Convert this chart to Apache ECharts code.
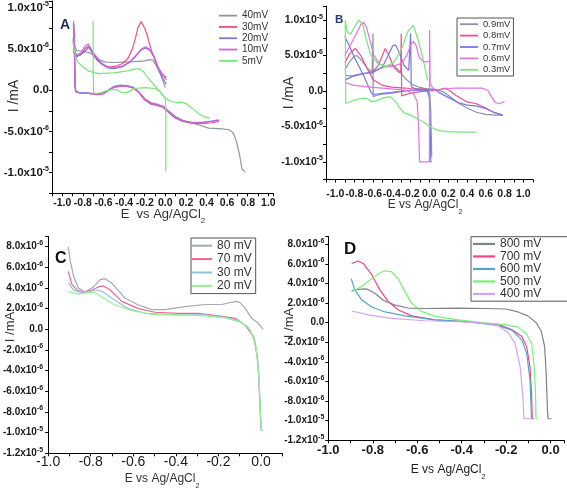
<!DOCTYPE html>
<html><head><meta charset="utf-8">
<script src="https://cdn.jsdelivr.net/npm/echarts@6/dist/echarts.min.js"></script>
<style>html,body{margin:0;padding:0;background:#fff}#c{width:567px;height:490px}</style>
</head><body><div id="c"></div>
<script>
// Current values are in units of 1e-6 mA; potential E in V vs Ag/AgCl2.
// ---- Panel A ----
const A_40mV = [[0.0,0.3],[-0.02,1.0],[-0.05,2.0],[-0.08,2.8],[-0.12,3.6],[-0.15,3.7],[-0.2,3.55],[-0.3,3.45],[-0.4,3.4],[-0.5,3.35],[-0.58,3.4],[-0.63,3.6],[-0.68,4.0],[-0.73,4.5],[-0.8,4.7],[-0.86,4.8],[-0.885,5.5],[-0.89,8.0],[-0.885,6.0],[-0.878,1.0],[-0.872,-0.1],[-0.84,-0.3],[-0.75,-0.35],[-0.66,-0.45],[-0.6,-0.35],[-0.55,0.05],[-0.5,0.45],[-0.44,0.6],[-0.37,0.55],[-0.31,0.35],[-0.26,-0.15],[-0.2,-1.0],[-0.14,-1.5],[-0.08,-1.7],[-0.02,-1.95],[0.04,-2.6],[0.1,-3.2],[0.17,-3.65],[0.25,-3.95],[0.32,-4.2],[0.42,-4.6],[0.55,-4.7],[0.62,-4.8],[0.66,-5.2],[0.69,-6.2],[0.72,-7.8],[0.745,-9.6],[0.775,-9.9]];
const A_30mV = [[0.01,1.5],[-0.03,2.0],[-0.07,2.7],[-0.1,3.6],[-0.14,5.0],[-0.17,6.4],[-0.2,7.5],[-0.235,8.3],[-0.265,7.6],[-0.29,6.3],[-0.32,5.0],[-0.36,3.9],[-0.42,3.2],[-0.48,2.9],[-0.54,2.8],[-0.6,3.0],[-0.66,3.6],[-0.7,4.3],[-0.73,5.0],[-0.75,5.3],[-0.78,5.0],[-0.82,4.3],[-0.86,4.2],[-0.885,5.0],[-0.89,7.8],[-0.882,5.5],[-0.875,0.5],[-0.868,-0.2],[-0.83,-0.35],[-0.75,-0.4],[-0.66,-0.55],[-0.6,-0.45],[-0.55,0.0],[-0.5,0.35],[-0.44,0.45],[-0.37,0.45],[-0.31,0.25],[-0.26,-0.25],[-0.2,-1.2],[-0.14,-1.7],[-0.08,-1.85],[-0.02,-2.1],[0.04,-2.8],[0.1,-3.4],[0.17,-3.8],[0.25,-4.0],[0.35,-4.05],[0.45,-3.95],[0.52,-3.8]];
const A_20mV = [[0.01,0.7],[-0.03,1.5],[-0.07,2.6],[-0.11,4.0],[-0.15,4.8],[-0.19,5.1],[-0.23,4.9],[-0.28,4.2],[-0.34,3.4],[-0.42,2.8],[-0.5,2.6],[-0.56,2.7],[-0.62,3.2],[-0.68,4.0],[-0.72,4.8],[-0.745,5.2],[-0.77,4.8],[-0.82,4.3],[-0.87,4.0],[-0.888,4.5],[-0.892,8.1],[-0.884,6.0],[-0.876,0.5],[-0.868,-0.2],[-0.83,-0.3],[-0.75,-0.35],[-0.66,-0.5],[-0.6,-0.4],[-0.55,0.0],[-0.5,0.4],[-0.44,0.5],[-0.37,0.5],[-0.31,0.3],[-0.26,-0.2],[-0.2,-1.15],[-0.14,-1.65],[-0.08,-1.8],[-0.02,-2.05],[0.04,-2.75],[0.1,-3.35],[0.17,-3.75],[0.25,-3.9],[0.35,-3.9],[0.45,-3.75],[0.52,-3.6]];
const A_10mV = [[0.01,1.2],[-0.03,1.8],[-0.07,2.8],[-0.11,4.1],[-0.15,4.9],[-0.19,5.25],[-0.23,5.0],[-0.28,4.3],[-0.34,3.5],[-0.42,2.9],[-0.5,2.7],[-0.56,2.8],[-0.62,3.3],[-0.68,4.2],[-0.72,5.0],[-0.75,5.6],[-0.78,5.3],[-0.82,4.5],[-0.87,4.2],[-0.886,5.0],[-0.89,8.4],[-0.883,6.0],[-0.875,0.3],[-0.866,-0.25],[-0.83,-0.35],[-0.75,-0.4],[-0.66,-0.5],[-0.6,-0.4],[-0.55,0.0],[-0.5,0.35],[-0.44,0.45],[-0.37,0.45],[-0.31,0.3],[-0.26,-0.2],[-0.2,-1.1],[-0.14,-1.6],[-0.08,-1.8],[-0.02,-2.0],[0.04,-2.7],[0.1,-3.3],[0.17,-3.7],[0.25,-3.9],[0.35,-3.95],[0.45,-3.8],[0.52,-3.7]];
const A_5mV_a = [[-0.9,6.2],[-0.89,5.2],[-0.875,4.2],[-0.85,3.4],[-0.8,2.8],[-0.74,2.3],[-0.65,2.0],[-0.5,2.1],[-0.38,2.3],[-0.3,2.55],[-0.25,2.6],[-0.21,2.2],[-0.17,1.5],[-0.12,0.8],[-0.07,0.1],[-0.03,-0.5],[0.0,-1.0],[0.005,-3.0],[0.005,-9.9]];
const A_5mV_b = [[-0.7,8.4],[-0.7,2.0],[-0.695,-0.4],[-0.68,-0.6],[-0.64,-0.35],[-0.58,-0.1],[-0.52,0.05],[-0.47,0.05],[-0.43,-0.25],[-0.39,-0.35],[-0.35,-0.15],[-0.3,0.2],[-0.2,0.3],[-0.1,0.2],[-0.05,-0.2],[-0.01,-0.9],[0.05,-1.35],[0.1,-1.5],[0.16,-1.45],[0.21,-1.7],[0.27,-2.3],[0.33,-2.9],[0.38,-3.25],[0.43,-3.4]];
// ---- Panel B ----
const B_09mV_a = [[-0.9,2.2],[-0.8,2.1],[-0.7,2.4],[-0.6,2.8],[-0.5,3.3],[-0.42,3.7],[-0.37,3.5],[-0.32,2.8],[-0.26,1.8],[-0.18,0.9],[-0.1,0.5],[-0.03,0.3],[0.005,-0.5],[0.015,-3.0],[0.025,-9.3]];
const B_09mV_b = [[-0.9,3.0],[-0.85,4.1],[-0.8,4.9],[-0.77,5.0],[-0.72,4.3],[-0.66,3.2],[-0.61,2.6],[-0.6,8.1],[-0.598,-0.8],[-0.56,-0.6],[-0.5,-0.45],[-0.4,-0.3],[-0.3,-0.1],[-0.2,0.1],[-0.1,0.2],[0.0,0.3],[0.08,0.2],[0.16,-0.2],[0.24,-1.0],[0.32,-1.8],[0.4,-2.4],[0.5,-3.0],[0.6,-3.3],[0.7,-3.4],[0.78,-3.4]];
const B_08mV_a = [[-0.9,4.0],[-0.85,5.2],[-0.79,6.0],[-0.73,5.0],[-0.67,3.4],[-0.6,1.6],[-0.5,0.8],[-0.4,0.55],[-0.3,0.45],[-0.2,0.35],[-0.1,0.3],[0.0,0.2]];
const B_08mV_b = [[-0.62,2.5],[-0.55,3.5],[-0.5,5.0],[-0.47,6.0],[-0.43,5.0],[-0.38,3.4],[-0.33,2.7],[-0.305,2.6],[-0.3,8.1],[-0.295,-0.7],[-0.25,-0.5],[-0.2,-0.3],[-0.1,-0.1],[0.0,0.0],[0.1,0.15],[0.17,0.4],[0.22,0.0],[0.28,-0.6],[0.39,-1.5],[0.5,-1.8],[0.6,-2.4],[0.7,-3.1],[0.78,-3.4]];
const B_07mV_a = [[-0.9,7.7],[-0.85,6.3],[-0.8,4.8],[-0.75,3.5],[-0.7,2.2],[-0.66,1.0],[-0.62,-0.2],[-0.6,-0.5],[-0.5,-0.35],[-0.4,-0.2],[-0.3,0.0],[-0.2,0.1],[-0.1,0.1],[0.0,0.1],[0.05,0.3],[0.1,-0.2],[0.2,-0.9],[0.3,-1.6],[0.4,-2.0],[0.5,-2.1],[0.6,-2.5],[0.7,-3.1],[0.78,-3.4]];
const B_07mV_b = [[-0.9,1.5],[-0.8,2.2],[-0.7,2.5],[-0.6,2.6],[-0.5,3.4],[-0.44,5.0],[-0.39,6.4],[-0.36,6.5],[-0.32,5.4],[-0.27,3.6],[-0.22,2.9],[-0.2,8.1],[-0.193,0.6],[-0.15,0.3],[-0.08,0.2],[-0.02,0.0],[0.0,-1.0],[0.01,-6.0],[0.015,-10.0],[0.025,-10.0]];
const B_06mV_a = [[-0.9,5.0],[-0.84,6.5],[-0.78,8.0],[-0.73,9.4],[-0.7,9.7],[-0.67,9.0],[-0.63,7.0],[-0.59,5.0],[-0.53,3.8],[-0.45,3.4],[-0.38,3.5],[-0.3,3.9],[-0.24,5.0],[-0.2,6.5],[-0.17,7.0],[-0.14,6.4],[-0.11,4.8],[-0.07,4.2],[-0.02,4.1],[0.0,4.2]];
const B_06mV_b = [[-0.9,1.2],[-0.8,0.8],[-0.6,0.5],[-0.4,0.3],[-0.25,0.1],[-0.17,-0.4],[-0.13,-1.5],[-0.115,-5.0],[-0.105,-10.0],[0.0,-10.0],[0.002,8.6],[0.008,1.0],[0.05,0.1],[0.1,0.2],[0.2,0.35],[0.3,0.4],[0.45,0.4],[0.56,0.4],[0.62,0.1],[0.66,-0.8],[0.7,-1.6],[0.74,-1.8],[0.8,-1.5]];
const B_03mV = [[0.5,-5.8],[0.35,-5.8],[0.2,-5.75],[0.1,-5.6],[0.03,-5.2],[-0.02,-4.8],[-0.07,-4.3],[-0.12,-4.0],[-0.2,-3.4],[-0.27,-3.1],[-0.32,-2.3],[-0.36,-1.5],[-0.42,-0.8],[-0.5,-1.0],[-0.56,-1.4],[-0.62,-1.5],[-0.66,-1.1],[-0.7,-1.0],[-0.74,-1.1],[-0.8,-1.3],[-0.86,-1.6],[-0.89,-1.75],[-0.895,10.0],[-0.875,8.4],[-0.84,8.0],[-0.79,9.2],[-0.75,10.0],[-0.71,9.4],[-0.67,7.2],[-0.62,5.0],[-0.55,3.9],[-0.47,3.4],[-0.38,4.0],[-0.3,5.8],[-0.23,8.4],[-0.17,9.3],[-0.12,7.2],[-0.07,4.6],[-0.04,2.8],[-0.02,1.5]];
// ---- Panel C ----
const C_80mV = [[-0.905,8.0],[-0.897,6.7],[-0.88,5.1],[-0.858,4.0],[-0.826,3.6],[-0.787,4.1],[-0.756,4.8],[-0.732,4.9],[-0.7,4.45],[-0.638,3.0],[-0.576,2.35],[-0.513,1.9],[-0.45,1.9],[-0.357,2.2],[-0.263,2.4],[-0.185,2.4],[-0.12,2.7],[-0.1,2.6],[-0.075,2.05],[-0.044,1.06],[-0.013,0.6],[0.01,0.0]];
const C_70mV = [[-0.905,5.6],[-0.89,4.4],[-0.865,3.8],[-0.834,3.6],[-0.795,3.8],[-0.763,4.1],[-0.74,4.2],[-0.709,3.8],[-0.654,2.7],[-0.576,2.0],[-0.498,1.65],[-0.388,1.55],[-0.294,1.55],[-0.2,1.3],[-0.12,1.06],[-0.075,0.4],[-0.035,-0.7],[-0.017,-2.65],[-0.01,-4.9],[-0.005,-7.5],[0.0,-9.75]];
const C_30mV = [[-0.905,4.5],[-0.88,3.8],[-0.85,3.6],[-0.81,3.65],[-0.77,3.8],[-0.745,3.65],[-0.7,3.0],[-0.623,2.0],[-0.545,1.55],[-0.388,1.4],[-0.263,1.4],[-0.169,1.16],[-0.106,0.84],[-0.06,0.19],[-0.03,-1.0],[-0.013,-3.6],[-0.005,-6.8],[0.0,-9.8]];
const C_20mV = [[-0.905,3.65],[-0.858,3.4],[-0.81,3.55],[-0.78,3.55],[-0.74,3.0],[-0.686,2.35],[-0.607,1.8],[-0.51,1.45],[-0.388,1.4],[-0.263,1.3],[-0.169,1.1],[-0.09,0.65],[-0.053,0.0],[-0.025,-1.45],[-0.01,-4.35],[-0.003,-7.6],[0.002,-9.8],[0.01,-9.8]];
// ---- Panel D ----
const D_800mV = [[-0.895,3.27],[-0.865,3.4],[-0.827,3.45],[-0.79,3.0],[-0.753,2.3],[-0.7,1.8],[-0.64,1.5],[-0.566,1.45],[-0.416,1.5],[-0.296,1.45],[-0.2,1.4],[-0.147,1.1],[-0.102,0.7],[-0.065,0.0],[-0.042,-0.9],[-0.027,-2.45],[-0.02,-5.2],[-0.015,-8.6],[-0.012,-9.8],[0.003,-9.8]];
const D_700mV = [[-0.895,6.05],[-0.865,6.3],[-0.843,6.05],[-0.805,4.9],[-0.768,3.35],[-0.73,2.15],[-0.685,1.3],[-0.625,0.7],[-0.52,0.3],[-0.37,0.1],[-0.235,-0.2],[-0.175,-0.7],[-0.13,-1.4],[-0.108,-2.45],[-0.093,-4.5],[-0.086,-7.2],[-0.083,-9.8],[-0.075,-9.8]];
const D_600mV = [[-0.897,4.5],[-0.88,3.3],[-0.85,2.35],[-0.805,1.6],[-0.745,1.1],[-0.655,0.7],[-0.52,0.3],[-0.37,0.1],[-0.235,-0.3],[-0.175,-0.75],[-0.13,-1.75],[-0.108,-3.1],[-0.093,-5.8],[-0.086,-9.8],[-0.08,-9.8]];
const D_500mV = [[-0.895,3.16],[-0.85,3.7],[-0.805,4.5],[-0.768,5.1],[-0.746,5.3],[-0.716,5.2],[-0.686,4.5],[-0.656,3.2],[-0.626,2.0],[-0.58,1.15],[-0.52,0.65],[-0.416,0.3],[-0.296,0.0],[-0.207,-0.2],[-0.147,-0.45],[-0.11,-1.1],[-0.086,-2.1],[-0.074,-4.5],[-0.068,-7.2],[-0.066,-9.8],[-0.06,-9.8]];
const D_400mV = [[-0.895,1.2],[-0.82,0.8],[-0.716,0.45],[-0.566,0.2],[-0.416,0.1],[-0.296,-0.07],[-0.235,-0.3],[-0.19,-1.05],[-0.16,-2.1],[-0.138,-4.4],[-0.126,-7.2],[-0.12,-9.8],[-0.08,-9.8]];

const namesA = ['40mV','30mV','20mV','10mV','5mV'];
const namesB = ['0.9mV','0.8mV','0.7mV','0.6mV','0.3mV'];
const namesC = ['80 mV','70 mV','30 mV','20 mV'];
const namesD = ['800 mV','700 mV','600 mV','500 mV','400 mV'];

const FONT = 'Liberation Sans, Arial, sans-serif';
const INK = '#1a1a1a';

function xFmt(v){ const k = Math.round(v*10); if (Math.abs(v*10-k) > 1e-6 || k % 2 !== 0) return ''; return (k/10).toFixed(1); }
function sciFmt(step){ return function(v){ const r = Math.round(v*1000)/1000; if (Math.abs(r/step - Math.round(r/step)) > 1e-6) return ''; if (Math.abs(r) < 1e-9) return '{m|0.0}'; const val = r*1e-6; const exp = Math.floor(Math.log10(Math.abs(val)) + 1e-9); const mant = val/Math.pow(10,exp); return '{m|' + mant.toFixed(1) + 'x10}{e|' + exp + '}'; }; }
function yRich(fs){ return { m:{fontSize:fs, fontWeight:'bold', fontFamily:FONT, color:INK, lineHeight:14}, e:{fontSize:Math.round(fs*0.65), fontWeight:'bold', fontFamily:FONT, color:INK, lineHeight:8, verticalAlign:'top'} }; }

function xAxis(gi, min, max, fs, margin, bold){
  return { gridIndex:gi, type:'value', min:min, max:max, interval:0.1,
    axisLine:{show:true, onZero:false, lineStyle:{color:'#000', width:1}},
    axisTick:{show:true, inside:false, length:3, lineStyle:{color:'#000'}},
    splitLine:{show:false},
    axisLabel:{formatter:xFmt, fontSize:fs, fontWeight:bold?'bold':'normal', fontFamily:FONT, color:INK, margin:margin, hideOverlap:false} };
}
function yAxis(gi, min, max, interval, step, fs, margin){
  return { gridIndex:gi, type:'value', min:min, max:max, interval:interval,
    axisLine:{show:true, onZero:false, lineStyle:{color:'#000', width:1}},
    axisTick:{show:true, inside:false, length:3, lineStyle:{color:'#000'}},
    splitLine:{show:false},
    axisLabel:{formatter:sciFmt(step), margin:margin, rich:yRich(fs), hideOverlap:false} };
}
function ser(name, data, color, gi){
  return { name:name, type:'line', data:data, xAxisIndex:gi, yAxisIndex:gi, showSymbol:false, symbol:'none',
    lineStyle:{width:1.2, color:color}, itemStyle:{color:color}, color:color, animation:false, clip:true, z:2 };
}
const colA = ['#8c9aa6','#f0507a','#7a78dc','#d464dc','#78e678'];
const colB = ['#8a96a6','#f0508c','#7878e0','#e474e4','#78e678'];
const colC = ['#a2aab2','#f06496','#8cc6da','#96f096'];
const colD = ['#7c848c','#f0468c','#50a8c8','#78f078','#d4a4f2'];

const series = [
  ser(namesA[0], A_40mV, colA[0], 0), ser(namesA[1], A_30mV, colA[1], 0), ser(namesA[2], A_20mV, colA[2], 0),
  ser(namesA[3], A_10mV, colA[3], 0), ser(namesA[4], A_5mV_a, colA[4], 0), ser(namesA[4], A_5mV_b, colA[4], 0),
  ser(namesB[0], B_09mV_a, colB[0], 1), ser(namesB[0], B_09mV_b, colB[0], 1),
  ser(namesB[1], B_08mV_a, colB[1], 1), ser(namesB[1], B_08mV_b, colB[1], 1),
  ser(namesB[2], B_07mV_a, colB[2], 1), ser(namesB[2], B_07mV_b, colB[2], 1),
  ser(namesB[3], B_06mV_a, colB[3], 1), ser(namesB[3], B_06mV_b, colB[3], 1),
  ser(namesB[4], B_03mV, colB[4], 1),
  ser(namesC[0], C_80mV, colC[0], 2), ser(namesC[1], C_70mV, colC[1], 2), ser(namesC[2], C_30mV, colC[2], 2), ser(namesC[3], C_20mV, colC[3], 2),
  ser(namesD[0], D_800mV, colD[0], 3), ser(namesD[1], D_700mV, colD[1], 3), ser(namesD[2], D_600mV, colD[2], 3),
  ser(namesD[3], D_500mV, colD[3], 3), ser(namesD[4], D_400mV, colD[4], 3)
];

function legend(names, left, top, fs, rowH, itemW, border, padding){
  return { data:names, orient:'vertical', left:left, top:top, itemWidth:itemW, itemHeight:rowH, itemGap:0,
    icon:'path://M0,0.45 L1,0.45 L1,0.55 L0,0.55 Z', itemStyle:{borderWidth:0},
    textStyle:{fontSize:fs, fontFamily:FONT, color:'#333', lineHeight:rowH, padding:[0,0,0,0]},
    borderColor: border ? '#555' : 'transparent', borderWidth: border ? 1 : 0, padding:padding, selectedMode:false };
}

function subName(x, y, fs, color, txt){
  return { type:'text', x:x, y:y, style:{ text:'{a|' + txt + '}{s|2}', align:'center', verticalAlign:'middle',
    rich:{ a:{fontSize:fs, fontFamily:FONT, fill:color, lineHeight:fs+3}, s:{fontSize:Math.round(fs*0.62), fontFamily:FONT, fill:color, lineHeight:fs+3, verticalAlign:'bottom', padding:[0,0,-3,0]} } } };
}
function yName(x, y, fs){
  return { type:'text', x:x, y:y, rotation:Math.PI/2, style:{ text:'I /mA', font:fs+'px '+FONT, fill:'#333', align:'center', verticalAlign:'middle' } };
}
function letter(t, x, y, fs, color){
  return { type:'text', x:x, y:y, style:{ text:t, font:'bold '+fs+'px '+FONT, fill:color, align:'left', verticalAlign:'middle' } };
}

const option = {
  animation:false,
  backgroundColor:'#fff',
  grid:[
    {left:52, top:1, width:221.5, height:192.3},
    {left:326, top:6, width:206.8, height:173.5},
    {left:48, top:236.3, width:234.3, height:217},
    {left:328.3, top:236.5, width:236, height:203.8}
  ],
  xAxis:[ xAxis(0,-1.1,1.05,10.5,4,true), xAxis(1,-1.1,1.1,10.5,9,true), xAxis(2,-1.0,0.1,14,2,false), xAxis(3,-1.0,0.06,13,4,true) ],
  yAxis:[ yAxis(0,-12.5,10.8,2.5,5,11.5,3), yAxis(1,-12.5,12,2.5,5,10.5,3), yAxis(2,-12,9,2,2,10,5), yAxis(3,-12,8.8,2,2,10,4) ],
  legend:[
    legend(namesA, 219, 10, 10, 11.3, 18, false, [0,0,0,0]),
    legend(namesB, 457, 18, 9.5, 11.4, 18, true, [0.5,3,0.5,3]),
    legend(namesC, 191, 238, 12, 13.4, 20, true, [1,4,1,1]),
    legend(namesD, 471, 236.7, 12, 12.5, 22, true, [1,28,1,2])
  ],
  graphic:{ elements:[
    letter('A', 60, 25, 14, '#1c2c5c'), letter('B', 335, 19.5, 11.5, '#2a3a7a'), letter('C', 55, 259, 16, '#111'), letter('D', 344, 249, 17, '#111'),
    yName(14, 96, 14), yName(289, 93, 14), yName(10, 327, 13), yName(289, 323, 13),
    subName(163, 214, 13, '#333', 'E  vs Ag/AgCl'), subName(425, 205, 12, '#333', 'E vs Ag/AgCl'), subName(162, 479, 12, '#333', 'E vs Ag/AgCl'), subName(448, 470, 12, '#222', 'E vs Ag/AgCl')
  ]},
  series:series
};
const chart = echarts.init(document.getElementById('c'), null, {renderer:'canvas'});
chart.setOption(option);
</script></body></html>
